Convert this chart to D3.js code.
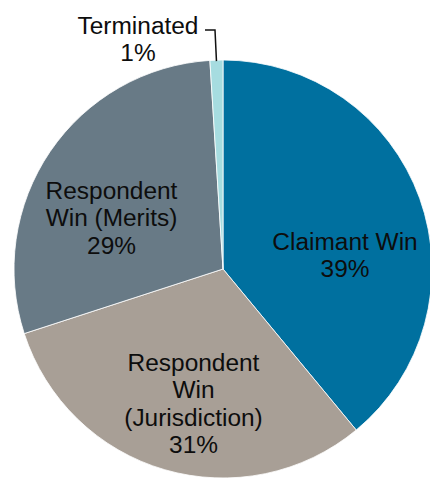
<!DOCTYPE html>
<html>
<head>
<meta charset="utf-8">
<script src="https://cdn.jsdelivr.net/npm/d3@7"></script>
<style>
  html, body { margin: 0; padding: 0; background: #fff; }
  text { font-family: "Liberation Sans", Arial, sans-serif; fill: #0d0d0d; }
</style>
</head>
<body>
<div id="d3-container"></div>
<script>
// data
const categories = ["Claimant Win", "Respondent Win (Jurisdiction)", "Respondent Win (Merits)", "Terminated"];
const shares = [39, 31, 29, 1];
const colors = ["#00709f", "#a89f96", "#687a86", "#a6dce0"];
// label lines as they wrap in the picture
const labelLines = [
  ["Claimant Win", "39%"],
  ["Respondent", "Win", "(Jurisdiction)", "31%"],
  ["Respondent", "Win (Merits)", "29%"],
  ["Terminated", "1%"]
];

var width = 430, height = 480;
const cx = 223, cy = 269, radius = 209;

const svg = d3.select("#d3-container")
  .append("svg")
  .attr("width", width)
  .attr("height", height);

const pie = d3.pie().sort(null).value(d => d);
const arcs = pie(shares);
const arc = d3.arc().innerRadius(0).outerRadius(radius);

const g = svg.append("g").attr("transform", `translate(${cx},${cy})`);

g.selectAll("path")
  .data(arcs)
  .join("path")
  .attr("d", arc)
  .attr("fill", (d, i) => colors[i])
  .attr("stroke", "#fff")
  .attr("stroke-width", 0.8);

// label anchors (relative to pie centre), chosen to match the picture
const labelPos = [
  { x: 122, y: -19 },
  { x: -29.5, y: 102 },
  { x: -111.5, y: -70 },
  { x: -85, y: -235 }
];
const lineH = 27.5;

const labels = svg.append("g")
  .selectAll("g")
  .data(arcs)
  .join("g")
  .attr("transform", (d, i) => `translate(${cx + labelPos[i].x},${cy + labelPos[i].y}) scale(1.04,1)`);

labels.each(function(d, i) {
  d3.select(this).selectAll("text")
    .data(labelLines[i])
    .join("text")
    .attr("text-anchor", "middle")
    .attr("y", (t, j) => j * lineH)
    .style("font-size", "23.5px")
    .text(t => t);
});

// leader line for the small slice
const term = arcs[3];
const mid = (term.startAngle + term.endAngle) / 2;
const edge = [cx + Math.sin(mid) * (radius - 1), cy - Math.cos(mid) * (radius - 1)];
svg.append("path")
  .attr("d", d3.line()([[205, 30], [215, 30], edge]))
  .attr("fill", "none")
  .attr("stroke", "#111")
  .attr("stroke-width", 1.5);
</script>
</body>
</html>
